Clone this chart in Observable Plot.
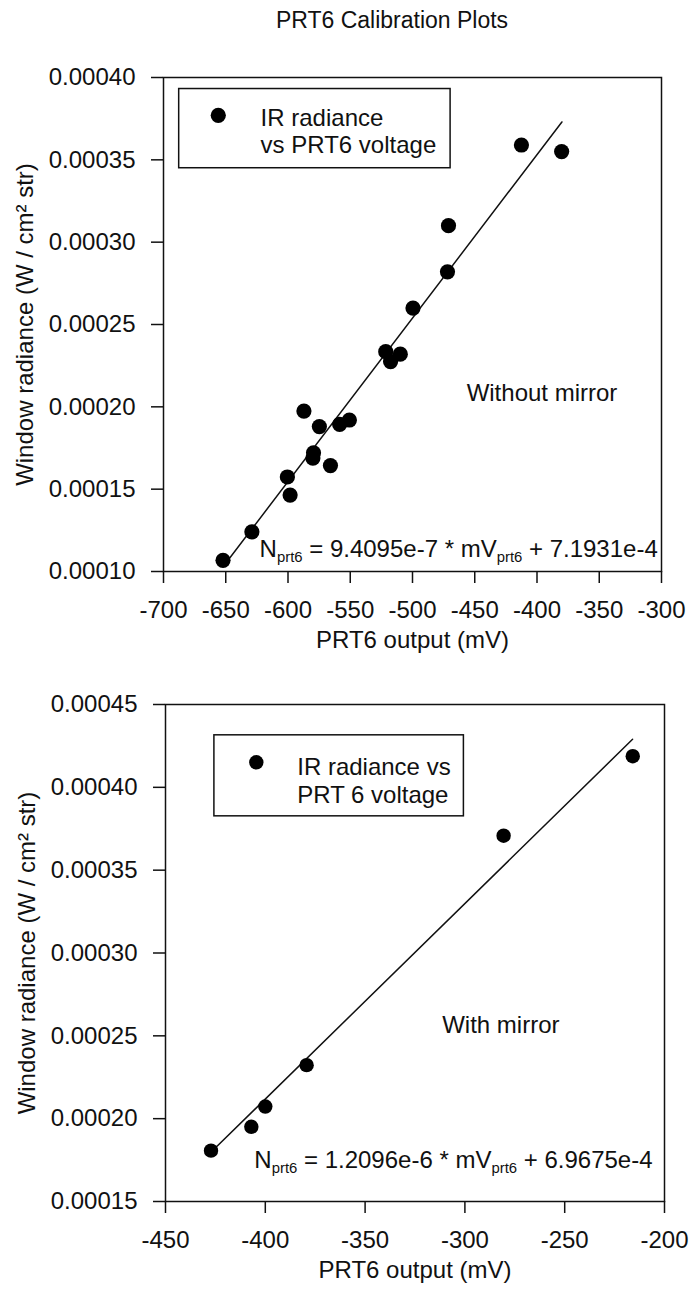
<!DOCTYPE html>
<html>
<head>
<meta charset="utf-8">
<script src="https://cdn.jsdelivr.net/npm/d3@7"></script>
<script src="https://cdn.jsdelivr.net/npm/@observablehq/plot@0.6"></script>
<style>
  body { margin: 0; background: #fff; font-family: "Liberation Sans", Arial, sans-serif; }
  #title { height: 40px; line-height: 40px; font-size: 23px; text-align: center; padding-left: 95px; box-sizing: border-box; width: 689px; color: #111; }
  svg { display: block; }
</style>
</head>
<body>
<div id="title">PRT6 Calibration Plots</div>
<div id="c1"></div>
<div id="c2"></div>
<script>
// ---- Top panel: without mirror ----
const topVoltage  = [-412.5, -380.2, -471.1, -471.9, -499.6, -521.5, -517.6, -509.8, -587.2, -574.8, -558.5, -550.7, -579.5, -580.0, -565.9, -600.5, -598.3, -629.0, -652.2];
const topRadiance = [0.000359, 0.000355, 0.000310, 0.000282, 0.000260, 0.0002335, 0.0002275, 0.000232, 0.0001974, 0.000188, 0.0001894, 0.000192, 0.0001721, 0.0001689, 0.0001643, 0.0001574, 0.0001464, 0.0001241, 0.0001068];
const topFitVoltage  = [-652, -380];
const topFitRadiance = [0.000103, 0.000373];
const topXTicks = [-700, -650, -600, -550, -500, -450, -400, -350, -300];
const topYTicks = [0.00010, 0.00015, 0.00020, 0.00025, 0.00030, 0.00035, 0.00040];
const topLegend = "IR radiance\nvs PRT6 voltage";
const topNote = "Without mirror";
const topEquation = ["N", "prt6", " = 9.4095e-7 * mV", "prt6", " + 7.1931e-4"];

// ---- Bottom panel: with mirror ----
const bottomVoltage  = [-215.9, -280.6, -379.3, -400.0, -407.0, -427.2];
const bottomRadiance = [0.0004188, 0.0003708, 0.0002323, 0.0002073, 0.0001951, 0.0001807];
const bottomFitVoltage  = [-427, -216];
const bottomFitRadiance = [0.000180, 0.000429];
const bottomXTicks = [-450, -400, -350, -300, -250, -200];
const bottomYTicks = [0.00015, 0.00020, 0.00025, 0.00030, 0.00035, 0.00040, 0.00045];
const bottomLegend = "IR radiance vs\nPRT 6 voltage";
const bottomNote = "With mirror";
const bottomEquation = ["N", "prt6", " = 1.2096e-6 * mV", "prt6", " + 6.9675e-4"];

const xLabel = "PRT6 output (mV)";
const yLabel = "Window radiance (W / cm\u00b2 str)";

const FONT = "Liberation Sans, Arial, sans-serif";
const FS = 24;
const SW = 1.5;

function panel(o) {
  const pts = o.vx.map((v, i) => ({v, r: o.ry[i]}));
  const fit = o.fx.map((v, i) => ({v, r: o.fy[i]}));
  const eqText = o.eq.join("");
  const svg = Plot.plot({
    width: 689,
    height: o.height,
    marginLeft: o.ml, marginRight: o.mr, marginTop: o.mt, marginBottom: o.mb,
    style: {fontFamily: FONT, fontSize: FS + "px", color: "#111", background: "transparent"},
    x: {domain: o.xdom},
    y: {domain: o.ydom},
    marks: [
      Plot.frame({stroke: "#111", strokeWidth: SW}),
      Plot.axisX({ticks: o.xt, tickSize: 12, tickPadding: 17, fontSize: FS, tickFormat: d => String(d), label: xLabel, labelAnchor: "center", labelOffset: 76, labelArrow: "none", strokeWidth: SW}),
      Plot.axisY({ticks: o.yt, tickSize: 12, tickPadding: 16, fontSize: FS, tickFormat: d3.format(".5f"), label: yLabel, labelAnchor: "center", labelOffset: 148, labelArrow: "none", strokeWidth: SW}),
      Plot.line(fit, {x: "v", y: "r", stroke: "#111", strokeWidth: SW}),
      Plot.dot(pts, {x: "v", y: "r", r: o.dotR, fill: "#000", stroke: "none"}),
      // legend box
      Plot.rect([o.legBox], {x1: "x1", x2: "x2", y1: "y1", y2: "y2", fill: "none", stroke: "#111", strokeWidth: SW}),
      Plot.dot([o.legDot], {x: "x", y: "y", r: o.dotR, fill: "#000", stroke: "none"}),
      Plot.text([o.legText], {x: "x", y: "y", text: "t", textAnchor: "start", lineAnchor: "middle", lineHeight: 1.15, fontSize: FS, fill: "#111"}),
      Plot.text([o.noteText], {x: "x", y: "y", text: "t", textAnchor: "middle", fontSize: FS, fill: "#111"}),
      Plot.text([{x: o.eqPos.x, y: o.eqPos.y, t: eqText}], {x: "x", y: "y", text: "t", textAnchor: "end", fontSize: FS, fill: "#111"})
    ]
  });
  // render subscripts inside the equation text
  d3.select(svg).selectAll("text").filter(function () { return this.textContent === eqText; }).each(function () {
    const t = d3.select(this);
    t.text(null);
    o.eq.forEach((part, i) => {
      const sub = i % 2 === 1;
      const ts = t.append("tspan").text(part);
      if (sub) ts.attr("font-size", "0.62em").attr("dy", "0.35em");
      else if (i > 0) ts.attr("dy", "-0.217em");
    });
  });
  return svg;
}

document.getElementById("c1").appendChild(panel({
  height: 620, ml: 163, mr: 28, mt: 37, mb: 89,
  xdom: [-700, -300], ydom: [0.0001, 0.0004], xt: topXTicks, yt: topYTicks,
  vx: topVoltage, ry: topRadiance, fx: topFitVoltage, fy: topFitRadiance, dotR: 7.6,
  legBox: {x1: -687.4, x2: -469.4, y1: 0.0003449, y2: 0.000393},
  legDot: {x: -656, y: 0.000377},
  legText: {x: -622, y: 0.0003677, t: topLegend},
  noteText: {x: -396, y: 0.000208, t: topNote},
  eqPos: {x: -303, y: 0.0001136},
  eq: topEquation
}));

document.getElementById("c2").appendChild(panel({
  height: 637, ml: 165, mr: 25, mt: 44, mb: 96,
  xdom: [-450, -200], ydom: [0.00015, 0.00045], xt: bottomXTicks, yt: bottomYTicks,
  vx: bottomVoltage, ry: bottomRadiance, fx: bottomFitVoltage, fy: bottomFitRadiance, dotR: 7.2,
  legBox: {x1: -425.5, x2: -300.5, y1: 0.0003825, y2: 0.0004314},
  legDot: {x: -404.5, y: 0.0004151},
  legText: {x: -384, y: 0.0004045, t: bottomLegend},
  noteText: {x: -282, y: 0.0002565, t: bottomNote},
  eqPos: {x: -206, y: 0.0001748},
  eq: bottomEquation
}));
</script>
</body>
</html>
